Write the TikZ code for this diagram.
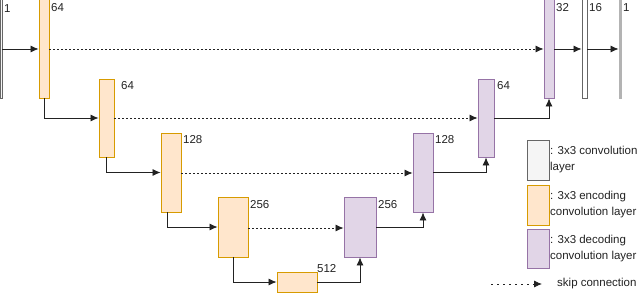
\documentclass[tikz,border=0pt]{standalone}
\usepackage{fontspec}
\setmainfont{Liberation Sans}
\usetikzlibrary{arrows.meta}

\definecolor{encfill}{HTML}{FFE6CC}
\definecolor{encdraw}{HTML}{D79B00}
\definecolor{decfill}{HTML}{E1D5E7}
\definecolor{decdraw}{HTML}{9673A6}
\definecolor{convfill}{HTML}{F5F5F5}
\definecolor{convdraw}{HTML}{666666}
\definecolor{outfill}{HTML}{B3B3B3}
\definecolor{txt}{HTML}{222222}

\tikzset{
  layer/.style={rectangle, inner sep=0, line width=0.9pt},
  enc/.style={layer, fill=encfill, draw=encdraw},
  dec/.style={layer, fill=decfill, draw=decdraw},
  conv/.style={layer, fill=convfill, draw=convdraw},
  num/.style={anchor=north west, inner sep=0, text=txt},
  conn/.style={line width=0.8pt, draw=txt, >={Latex[length=8pt,width=7pt]}, ->},
  skip/.style={conn, dash pattern=on 2pt off 2pt},
  legtext/.style={anchor=west, inner xsep=0.5pt, inner ysep=0, align=left, text=txt}
}

\begin{document}
\begin{tikzpicture}[x=1pt, y=-1pt, font=\fontsize{11.5}{16}\selectfont]
  \useasboundingbox (0,0) rectangle (640,294);

  % The input and the first row
  \coordinate (row1) at (0,49);
  \node[conv, minimum width=2pt, minimum height=102pt] (in1) at (1,47) {};
  \node[num] (l-in) at (4,4) {1};

  % The encoder
  \node[enc, minimum width=10pt, minimum height=103pt] (enc1) at (44,46.5) {};
  \node[enc, minimum width=15pt, minimum height=78pt] (enc2) at (106.5,118) {};
  \node[enc, minimum width=20pt, minimum height=79pt] (enc3) at (171,172.5) {};
  \node[enc, minimum width=30pt, minimum height=60pt] (enc4) at (233,227) {};
  \node[enc, minimum width=40pt, minimum height=20pt] (bott) at (297,282) {};
  \node[num] (l-e1) at (51,3) {64};
  \node[num] (l-e2) at (121,81) {64};
  \node[num] (l-e3) at (183,135) {128};
  \node[num] (l-e4) at (250,200) {256};
  \node[num] (l-b) at (317,264) {512};

  % The decoder
  \node[dec, minimum width=32pt, minimum height=60pt] (dec4) at (360,227) {};
  \node[dec, minimum width=20pt, minimum height=79pt] (dec3) at (423,172.5) {};
  \node[dec, minimum width=16pt, minimum height=78pt] (dec2) at (486,118) {};
  \node[dec, minimum width=10pt, minimum height=103pt] (dec1) at (549,46.5) {};
  \node[num] (l-d4) at (378,200) {256};
  \node[num] (l-d3) at (435,135) {128};
  \node[num] (l-d2) at (497,81) {64};
  \node[num] (l-d1) at (556,3) {32};

  % The output layers
  \node[layer, fill=white, draw=convdraw, minimum width=5pt, minimum height=103pt] (conv16) at (584.5,46.5) {};
  \node[layer, fill=outfill, draw=outfill, minimum width=2pt, minimum height=103pt] (out1) at (620,46.5) {};
  \node[num] (l-c) at (589,3) {16};
  \node[num] (l-o) at (623,3) {1};

  % The down path
  \draw[conn] (in1.east |- row1) -- (enc1.west |- row1);
  \draw[conn] (enc1.south) |- (enc2.west);
  \draw[conn] (enc2.south) |- (enc3.west);
  \draw[conn] ([xshift=-4pt]enc3.south) |- (enc4.west);
  \draw[conn] (enc4.south) |- (bott.west);

  % The up path
  \draw[conn] (bott.east) -| (dec4.south);
  \draw[conn] (dec4.east) -| (dec3.south);
  \draw[conn] (dec3.east) -| (dec2.south);
  \draw[conn] (dec2.east) -| (dec1.south);
  \draw[conn] (dec1.east |- row1) -- (conv16.west |- row1);
  \draw[conn] (conv16.east |- row1) -- (out1.west |- row1);

  % The skip connections
  \draw[skip] (enc1.east |- row1) -- (dec1.west |- row1);
  \draw[skip] (enc2.east) -- (dec2.west);
  \draw[skip] ([yshift=-0.5pt]enc3.east) -- ([yshift=-0.5pt]dec3.west);
  \draw[skip] ([yshift=-1pt]enc4.east) -- ([yshift=-1pt]dec4.west);

  % The legend
  \node[conv, minimum width=22pt, minimum height=40pt] (leg1) at (538,160) {};
  \node[enc, minimum width=22pt, minimum height=40pt] (leg2) at (538,205) {};
  \node[dec, minimum width=22pt, minimum height=39pt] (leg3) at (538,248.5) {};
  \node[legtext] (t-leg1) at (leg1.east) {: 3x3 convolution\\layer};
  \node[legtext] (t-leg2) at (leg2.east) {: 3x3 encoding\\convolution layer};
  \node[legtext] (t-leg3) at (leg3.east) {: 3x3 decoding\\convolution layer};
  \coordinate (legA) at (491,284);
  \coordinate (legB) at (542,284);
  \node[legtext, inner xsep=0] (t-skip) at (557,284) {skip connection};
  \draw[conn, dash pattern=on 1.5pt off 4.5pt] (legA) -- (legB);

\end{tikzpicture}
\end{document}
